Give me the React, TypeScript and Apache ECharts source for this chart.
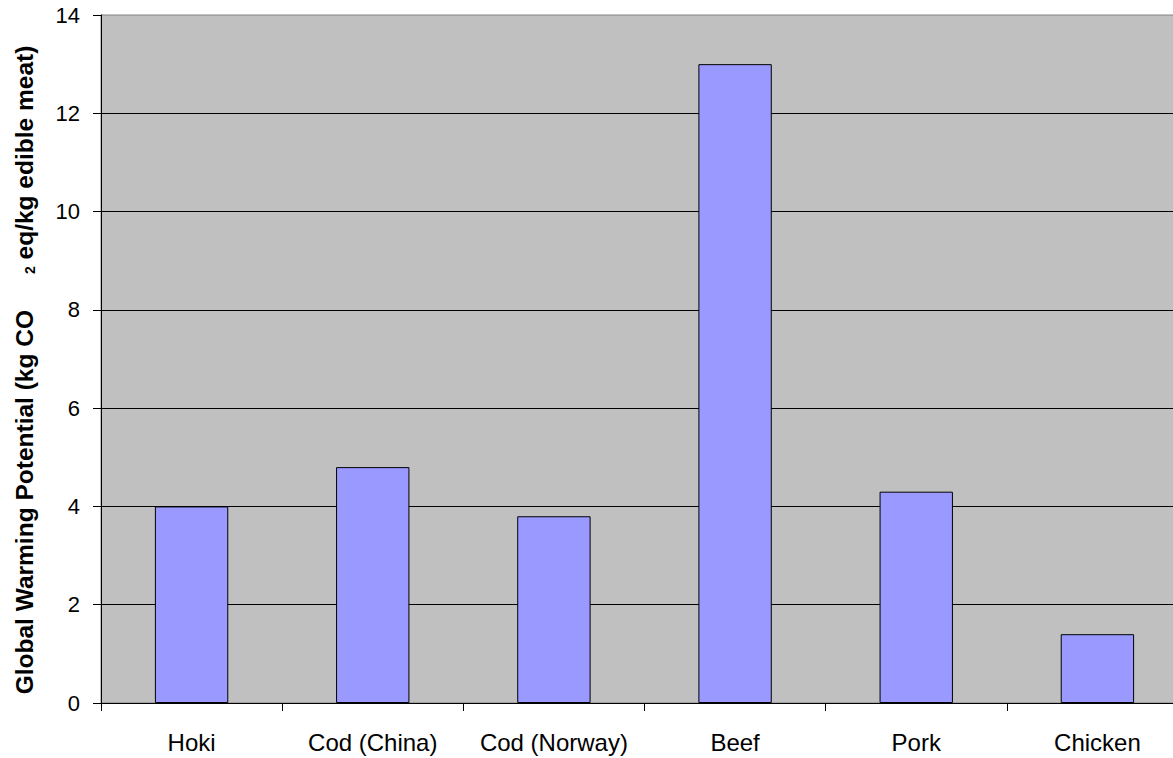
import React, { useEffect, useRef } from "react";
import * as echarts from "echarts";

const categories = ["Hoki", "Cod (China)", "Cod (Norway)", "Beef", "Pork", "Chicken"];
const gwpValues = [4.0, 4.8, 3.8, 13.0, 4.3, 1.4];
const yTicks = { min: 0, max: 14, interval: 2 };

const FONT = "'Liberation Sans', Arial, sans-serif";

export default function App() {
  const ref = useRef<HTMLDivElement>(null);

  useEffect(() => {
    if (!ref.current) return;
    const chart = echarts.init(ref.current, undefined, { renderer: "svg" });
    chart.setOption({
      animation: false,
      grid: {
        left: 101,
        right: 0,
        top: 15,
        bottom: 55,
        containLabel: false,
        show: true,
        backgroundColor: "#c0c0c0",
        borderColor: "#808080",
        borderWidth: 1,
      },
      xAxis: {
        type: "category",
        data: categories,
        axisLine: { show: true, lineStyle: { color: "#000", width: 1 } },
        axisTick: { show: true, interval: 0, alignWithLabel: false, length: 8, lineStyle: { color: "#000" } },
        axisLabel: { interval: 0, hideOverlap: false, color: "#000", fontFamily: FONT, fontSize: 24, margin: 27 },
        splitLine: { show: false },
      },
      yAxis: {
        type: "value",
        min: yTicks.min,
        max: yTicks.max,
        interval: yTicks.interval,
        axisLine: { show: true, lineStyle: { color: "#000", width: 1 } },
        axisTick: { show: true, length: 8, lineStyle: { color: "#000" } },
        axisLabel: { color: "#000", fontFamily: FONT, fontSize: 22, margin: 21 },
        splitLine: { show: true, showMaxLine: false, lineStyle: { color: "#000", width: 1 } },
      },
      graphic: [
        {
          type: "text",
          x: 24,
          y: 370,
          rotation: Math.PI / 2,
          style: {
            text: "Global Warming Potential (kg CO{sub|2} eq/kg edible meat)",
            font: `bold 24.5px ${FONT}`,
            fill: "#000",
            align: "center",
            verticalAlign: "middle",
            rich: {
              sub: {
                font: `bold 14px ${FONT}`,
                fill: "#000",
                padding: [0, 0, 0, 36],
                verticalAlign: "bottom",
              },
            },
          },
        },
      ],
      series: [
        {
          type: "bar",
          data: gwpValues,
          barWidth: "40.5%",
          itemStyle: { color: "#9999ff", borderColor: "#000", borderWidth: 1 },
        },
      ],
    });
    return () => chart.dispose();
  }, []);

  return (
    <div style={{ position: "absolute", left: 0, top: 0, width: 1173, height: 758, overflow: "hidden", background: "#fff" }}>
      <div ref={ref} style={{ width: 1188, height: 758 }} />
    </div>
  );
}
